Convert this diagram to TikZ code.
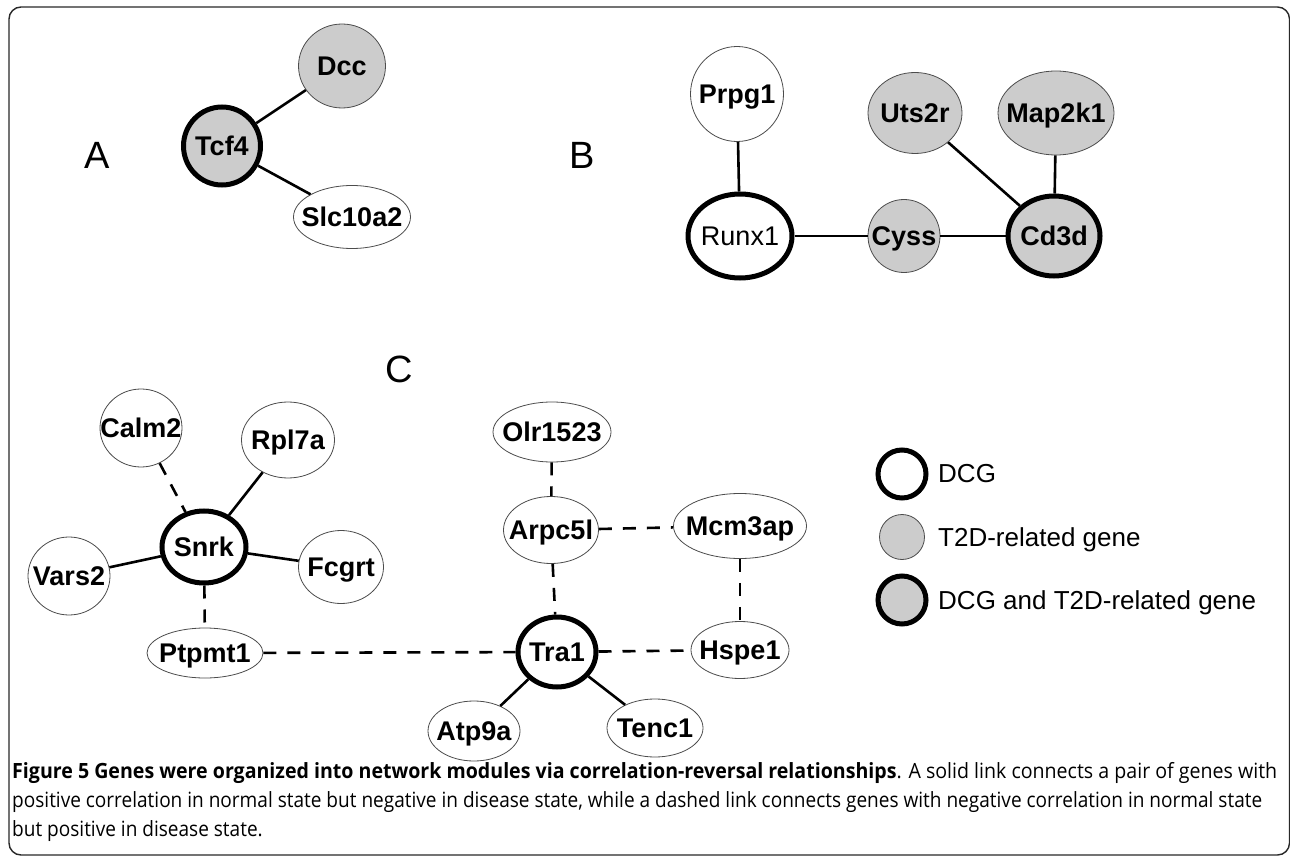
\documentclass[tikz,border=0pt]{standalone}
\usepackage{fontspec}
\setmainfont{Liberation Sans}
\newfontfamily\capfont{Open Sans}
\usetikzlibrary{shapes.geometric}
\definecolor{nodegray}{RGB}{204,204,204}
\definecolor{framec}{RGB}{40,40,40}
\newdimen\capw
\newcommand\capsize{\fontsize{21}{25}\selectfont}
\begin{document}
\setbox0=\hbox{\capfont\capsize\textbf{Figure 5 Genes were organized into network modules via correlation-reversal relationships}. A solid link connects a pair of genes with}%
\capw=\wd0
\pgfmathsetmacro\capsxa{1265/\capw}%
\setbox0=\hbox{\capfont\capsize positive correlation in normal state but negative in disease state, while a dashed link connects genes with negative correlation in normal state}%
\capw=\wd0
\pgfmathsetmacro\capsxb{1250/\capw}%
\begin{tikzpicture}[x=1pt,y=-1pt,
  gene/.style={ellipse, draw=black!70, line width=0.8pt, fill=white, inner sep=0pt,
    font=\fontsize{27}{29}\selectfont\bfseries, text height=19.3pt, text depth=0pt},
  t2d/.style={fill=nodegray},
  dcg/.style={draw=black, line width=5pt},
  normal/.style={font=\fontsize{27}{29}\selectfont},
  link/.style={line width=2.6pt},
  dlink/.style={line width=2.6pt, dash pattern=on 13pt off 11pt},
  panel/.style={font=\fontsize{38}{40}\selectfont, inner sep=0pt, text height=27pt, text depth=0pt},
  legtext/.style={anchor=west, inner sep=0pt, font=\fontsize{26}{28}\selectfont, text height=18.6pt, text depth=0pt},
  capline/.style={anchor=base west, inner sep=0pt, font=\capfont\capsize}
]
\useasboundingbox (0,0) rectangle (1290,858);
\draw[framec, line width=1.4pt, rounded corners=12pt] (9,7) rectangle (1289.5,855);

% ---------- Panel A ----------
\node[panel] (lA) at (97,155) {A};
\node[gene,t2d,dcg,minimum width=77pt,minimum height=78pt] (tcf4) at (222,146) {\makebox[0pt]{Tcf4}};
\node[gene,t2d,minimum width=87pt,minimum height=84pt] (dcc) at (342,66) {\makebox[0pt]{Dcc}};
\node[gene,minimum width=117pt,minimum height=63pt] (slc) at (352,217) {\makebox[0pt]{Slc10a2}};
\draw[link] (tcf4) -- (dcc);
\draw[link] (tcf4) -- (slc);

% ---------- Panel B ----------
\node[panel] (lB) at (582,155) {B};
\node[gene,minimum width=93pt,minimum height=95pt] (prpg1) at (737,94) {\makebox[0pt]{Prpg1}};
\node[gene,dcg,normal,minimum width=104pt,minimum height=84pt] (runx1) at (740,236) {\makebox[0pt]{Runx1}};
\node[gene,t2d,minimum width=72pt,minimum height=73pt] (cyss) at (904,236) {\makebox[0pt]{Cyss}};
\node[gene,t2d,minimum width=94pt,minimum height=81pt] (uts2r) at (915,113) {\makebox[0pt]{Uts2r}};
\node[gene,t2d,minimum width=116pt,minimum height=84pt] (map2k1) at (1056,113) {\makebox[0pt]{Map2k1}};
\node[gene,t2d,dcg,minimum width=92pt,minimum height=80pt] (cd3d) at (1054,236) {\makebox[0pt]{Cd3d}};
\draw[link] (prpg1) -- (runx1);
\draw[link] (runx1) -- (cyss);
\draw[link] (cyss) -- (cd3d);
\draw[link] (uts2r) -- (cd3d);
\draw[link] (map2k1) -- (cd3d);

% ---------- Panel C ----------
\node[panel] (lC) at (399,369) {C};
\node[gene,minimum width=82pt,minimum height=78pt] (calm2) at (141,428) {\makebox[0pt]{Calm2}};
\node[gene,minimum width=93pt,minimum height=76pt] (rpl7a) at (288,440) {\makebox[0pt]{Rpl7a}};
\node[gene,dcg,minimum width=84pt,minimum height=72pt] (snrk) at (204,547) {\makebox[0pt]{Snrk}};
\node[gene,minimum width=82pt,minimum height=78pt] (vars2) at (69,576) {\makebox[0pt]{Vars2}};
\node[gene,minimum width=85pt,minimum height=73pt] (fcgrt) at (341,567) {\makebox[0pt]{Fcgrt}};
\node[gene,minimum width=116pt,minimum height=50pt] (ptpmt1) at (205,653) {\makebox[0pt]{Ptpmt1}};
\node[gene,minimum width=118pt,minimum height=60pt] (olr) at (552,432) {\makebox[0pt]{Olr1523}};
\node[gene,minimum width=95pt,minimum height=67pt] (arpc) at (551,530) {\makebox[0pt]{Arpc5l}};
\node[gene,minimum width=133pt,minimum height=65pt] (mcm) at (740,526) {\makebox[0pt]{Mcm3ap}};
\node[gene,dcg,minimum width=78pt,minimum height=70pt] (tra1) at (557,652) {\makebox[0pt]{Tra1}};
\node[gene,minimum width=98pt,minimum height=57pt] (hspe1) at (740,650) {\makebox[0pt]{Hspe1}};
\node[gene,minimum width=92pt,minimum height=60pt] (atp9a) at (474,731) {\makebox[0pt]{Atp9a}};
\node[gene,minimum width=96pt,minimum height=58pt] (tenc1) at (655,728) {\makebox[0pt]{Tenc1}};

\draw[dlink] (calm2) -- (snrk);
\draw[link] (rpl7a) -- (snrk);
\draw[link] (vars2) -- (snrk);
\draw[link] (fcgrt) -- (snrk);
\draw[dlink] (snrk) -- (ptpmt1);
\draw[dlink] (ptpmt1) -- (tra1);
\draw[dlink] (olr) -- (arpc);
\draw[dlink] (arpc) -- (tra1);
\draw[dlink] (arpc) -- (mcm);
\draw[dlink] (mcm) -- (hspe1);
\draw[dlink] (tra1) -- (hspe1);
\draw[link] (tra1) -- (atp9a);
\draw[link] (tra1) -- (tenc1);

% ---------- Legend ----------
\node[gene,dcg,minimum width=48pt,minimum height=48pt] (legdcg) at (902,474) {};
\node[gene,t2d,minimum width=45pt,minimum height=45pt] (legt2d) at (902,537) {};
\node[gene,t2d,dcg,minimum width=48pt,minimum height=48pt] (legboth) at (902,600) {};
\node[legtext] (legdcgt) at (938,473) {DCG};
\node[legtext] (legt2dt) at (938,537) {T2D-related gene};
\node[legtext] (legbotht) at (938,600) {DCG and T2D-related gene};

% ---------- Caption ----------
\node[capline] (cap1) at (12,778) {\scalebox{\capsxa}[1]{\textbf{Figure 5 Genes were organized into network modules via correlation-reversal relationships}. A solid link connects a pair of genes with}};
\node[capline] (cap2) at (12,807) {\scalebox{\capsxb}[1]{positive correlation in normal state but negative in disease state, while a dashed link connects genes with negative correlation in normal state}};
\node[capline] (cap3) at (12,836) {\scalebox{\capsxb}[1]{but positive in disease state.}};
\end{tikzpicture}
\end{document}
